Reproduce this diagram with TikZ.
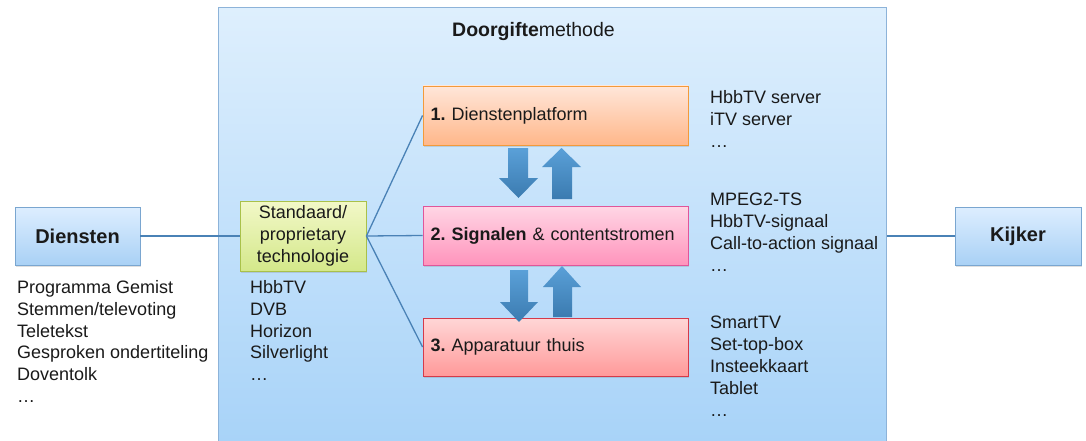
\documentclass[tikz,border=0pt]{standalone}
\usepackage{fontspec}
\setmainfont{Liberation Sans}
\usetikzlibrary{shadows}
\frenchspacing
\definecolor{lineblue}{HTML}{4A82B6}
\definecolor{contdraw}{HTML}{8DB3D9}
\definecolor{conttop}{HTML}{DEEFFD}
\definecolor{contbot}{HTML}{A6D2F8}
\definecolor{bluedraw}{HTML}{7AA6D0}
\definecolor{bluetop}{HTML}{DDEEFF}
\definecolor{bluebot}{HTML}{A9D1F5}
\definecolor{grdraw}{HTML}{A9C14A}
\definecolor{grtop}{HTML}{F2F8C8}
\definecolor{grbot}{HTML}{D4E88A}
\definecolor{ordraw}{HTML}{F39A3A}
\definecolor{ortop}{HTML}{FFE6D9}
\definecolor{orbot}{HTML}{FFB78A}
\definecolor{pkdraw}{HTML}{E0569A}
\definecolor{pktop}{HTML}{FFD6E5}
\definecolor{pkbot}{HTML}{FF94BC}
\definecolor{rddraw}{HTML}{D43A4A}
\definecolor{rdtop}{HTML}{FFD6D6}
\definecolor{rdbot}{HTML}{FF9A9A}
\definecolor{arrtop}{HTML}{5AA0D8}
\definecolor{arrbot}{HTML}{3B7BB0}
\definecolor{txt}{HTML}{1A1A1A}
\tikzset{
  box/.style={draw, line width=0.9pt, inner sep=0pt, text=txt, drop shadow={opacity=0.25, shadow xshift=1pt, shadow yshift=-1.5pt}},
  bluebox/.style={box, draw=bluedraw, top color=bluetop, bottom color=bluebot, font=\fontsize{20}{24}\selectfont\bfseries},
  greenbox/.style={box, draw=grdraw, top color=grtop, bottom color=grbot, align=center, font=\fontsize{18}{21.7}\selectfont},
  stepbox/.style={box, minimum width=265pt, minimum height=59pt, text width=250pt, align=left, font=\fontsize{18}{21.7}\selectfont},
  listtext/.style={anchor=north west, inner sep=0pt, align=left, text=txt, font=\fontsize{18}{21.9}\selectfont},
  conn/.style={draw=lineblue, line width=1.3pt},
  blockarrow/.style={top color=arrtop, bottom color=arrbot, draw=none},
}
\begin{document}
\begin{tikzpicture}[x=1pt,y=-1pt]
\clip (0,0) rectangle (1086,441);
\fill[white] (0,0) rectangle (1086,441);
% container
\node[draw=contdraw, line width=1pt, top color=conttop, bottom color=contbot, minimum width=668pt, minimum height=450pt, anchor=north west, inner sep=0pt] (cont) at (218,7) {};
\node[font=\fontsize{19.5}{22}\selectfont, text=txt] (title) at (533.5,32) {\textbf{Doorgifte}methode};
% boxes
\node[bluebox, minimum width=125pt, minimum height=58pt] (dien) at (77.5,236) {Diensten};
\node[bluebox, minimum width=126pt, minimum height=58pt] (kijk) at (1018,236) {Kijker};
\node[greenbox, minimum width=126pt, minimum height=70pt] (std) at (303,236) {Standaard/\\proprietary\\technologie};
\node[stepbox, draw=ordraw, top color=ortop, bottom color=orbot] (b1) at (555.5,115.5) {\textbf{1.} Dienstenplatform};
\node[stepbox, draw=pkdraw, top color=pktop, bottom color=pkbot] (b2) at (555.5,235.5) {\textbf{2. Signalen} \& contentstromen};
\node[stepbox, draw=rddraw, top color=rdtop, bottom color=rdbot, minimum height=58pt] (b3) at (555.5,347) {\textbf{3.} Apparatuur thuis};
% connectors
\draw[conn] (dien.east) -- (std.west);
\draw[conn] (std.east) -- (b1.west);
\draw[conn] (std.east) -- (b2.west);
\draw[conn] (std.east) -- (b3.west);
\draw[conn] (kijk.west) -- (cont.east |- kijk.west);
% block arrows
\path[blockarrow] (508,148) -- (528,148) -- (528,178) -- (538,178) -- (518.5,198) -- (499,178) -- (508,178) -- cycle;
\path[blockarrow] (552,199) -- (572,199) -- (572,167) -- (581,167) -- (561.5,148) -- (542,167) -- (552,167) -- cycle;
\path[blockarrow] (510,270) -- (528,270) -- (528,302) -- (538,302) -- (519,322) -- (500,302) -- (510,302) -- cycle;
\path[blockarrow] (553,317) -- (572,317) -- (572,287) -- (581,287) -- (562,266) -- (543,287) -- (553,287) -- cycle;
% lists
\node[listtext] (l0) at (17,280) {Programma Gemist\\Stemmen/televoting\\Teletekst\\Gesproken ondertiteling\\Doventolk\\…};
\node[listtext] (l1) at (250,280) {HbbTV\\DVB\\Horizon\\Silverlight\\…};
\node[listtext] (l2) at (710,90) {HbbTV server\\iTV server\\…};
\node[listtext] (l3) at (710,193) {MPEG2-TS\\HbbTV-signaal\\Call-to-action signaal\\…};
\node[listtext] (l4) at (710,316) {SmartTV\\Set-top-box\\Insteekkaart\\Tablet\\…};
\end{tikzpicture}
\end{document}
